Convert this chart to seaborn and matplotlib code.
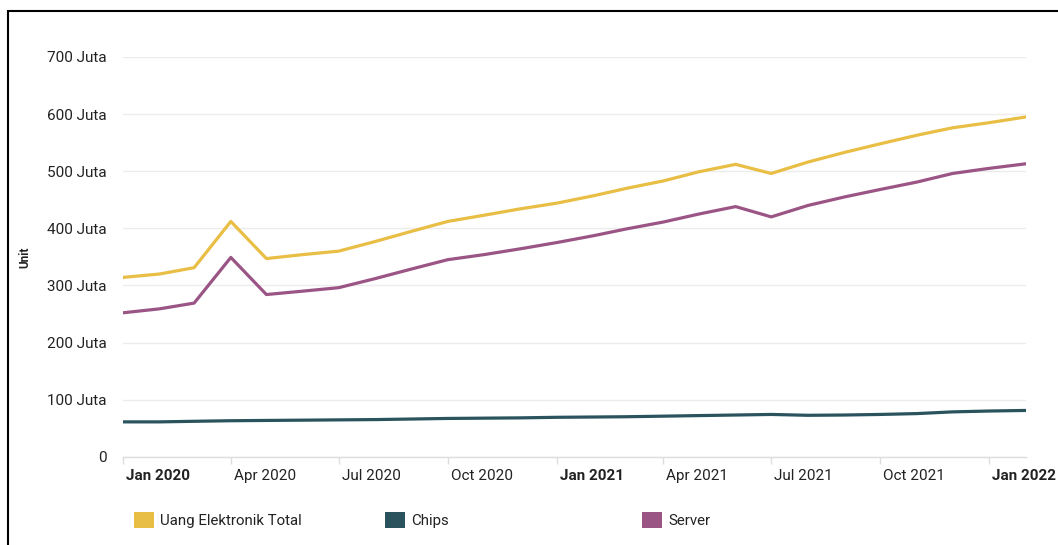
import matplotlib
matplotlib.use("Agg")
import matplotlib.pyplot as plt
import matplotlib.transforms as mtransforms
from matplotlib.patches import Patch, Rectangle
import pandas as pd
import seaborn as sns

# ---- data (values in juta / millions of units) ----
months = pd.date_range("2020-01-01", periods=26, freq="MS")
uang_total = [314, 320, 331, 412, 347, 354, 360, 377, 395, 412, 423, 434, 444,
              457, 470, 483, 499, 512, 496, 516, 533, 548, 563, 576, 585, 595]
chips = [61, 61, 62, 63, 63.5, 64, 64.5, 65, 66, 67, 67.5, 68, 69,
         69.5, 70, 71, 72, 73, 74, 72.5, 73, 74, 75.5, 78.5, 80, 81]
server = [252, 259, 269, 349, 284, 290, 296, 312, 329, 345, 354, 364, 375,
          387, 399, 411, 425, 438, 420, 440, 455, 468, 481, 496, 505, 513]
series_names = ["Uang Elektronik Total", "Chips", "Server"]
series_colors = ["#E9BE45", "#2A535D", "#9B5585"]
y_ticks = [0, 100, 200, 300, 400, 500, 600, 700]
y_tick_labels = ["0", "100 Juta", "200 Juta", "300 Juta", "400 Juta",
                 "500 Juta", "600 Juta", "700 Juta"]

df = pd.DataFrame({
    "Bulan": list(months) * 3,
    "Nilai": uang_total + chips + server,
    "Seri": [n for n in series_names for _ in range(len(months))],
})

sns.set_theme(style="white")
plt.rcParams["font.family"] = ["Roboto", "DejaVu Sans"]

W, H = 1058, 545
fig = plt.figure(figsize=(W / 100, H / 100), dpi=100)
ax = fig.add_axes([123 / W, (H - 456.7) / H, 903 / W, 399.7 / H])

sns.lineplot(data=df, x="Bulan", y="Nilai", hue="Seri", hue_order=series_names,
             palette=dict(zip(series_names, series_colors)), linewidth=2.3,
             ax=ax, legend=False)

ax.set_xlim(months[0], months[-1])
ax.set_ylim(0, 700)
ax.set_yticks(y_ticks)
ax.set_yticklabels(y_tick_labels)
ax.grid(axis="y", color="#ececec", lw=1)
ax.grid(axis="x", visible=False)
ax.set_axisbelow(True)
for s in ["top", "right", "left"]:
    ax.spines[s].set_visible(False)
ax.spines["bottom"].set_color("#dddddd")
ax.spines["bottom"].set_linewidth(1)

xt = [d for d in months if d.month in (1, 4, 7, 10)]
ax.set_xticks(xt)
ax.set_xticklabels([d.strftime("%b %Y") for d in xt])
ax.tick_params(axis="y", length=0, pad=12, labelsize=11, labelcolor="#222222")
ax.tick_params(axis="x", length=5, width=1, color="#dddddd", pad=4,
               labelsize=11, labelcolor="#222222", bottom=True)
off = mtransforms.ScaledTranslation(3 / 100, 0, fig.dpi_scale_trans)
for lab, d in zip(ax.get_xticklabels(), xt):
    lab.set_horizontalalignment("left")
    lab.set_transform(lab.get_transform() + off)
    if d.month == 1:
        lab.set_fontweight("bold")

ax.set_xlabel("")
ax.set_ylabel("Unit", fontsize=8.5, fontweight="bold", color="#222222")
ax.yaxis.set_label_coords(-0.102, 0.5)

# legend: three fixed-width columns
leg_x = [134, 385, 642]
for name, col, x in zip(series_names, series_colors, leg_x):
    lg = fig.legend(handles=[Patch(facecolor=col, edgecolor="none", label=name)],
                    loc="center left", bbox_to_anchor=(x / W, (H - 520) / H),
                    frameon=False, fontsize=10.8, handlelength=1.35, handleheight=1.35,
                    handletextpad=0.4, borderpad=0, borderaxespad=0)
    for t in lg.get_texts():
        t.set_color("#222222")

# outer frame
fig.patches.append(Rectangle((8 / W, -0.1), 1.2, (H - 10.5) / H + 0.1,
                             transform=fig.transFigure, fill=False,
                             edgecolor="black", lw=1.5))

fig.savefig("out.png", dpi=100)
